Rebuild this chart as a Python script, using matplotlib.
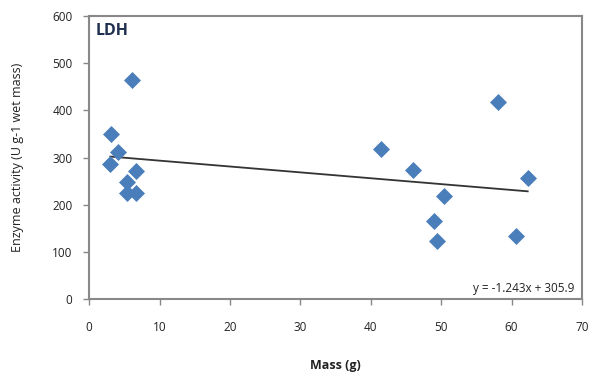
import matplotlib
matplotlib.use("Agg")
import matplotlib.pyplot as plt
import numpy as np

mass = [6.1, 3.1, 4.1, 3.0, 6.6, 5.3, 5.3, 6.7, 41.4, 46.0, 50.4, 49.0, 49.4, 58.1, 62.3, 60.6]
activity = [464, 351, 311, 286, 271, 248, 225, 225, 319, 273, 219, 165, 124, 418, 256, 134]
slope = -1.243
intercept = 305.9
x_ticks = [0, 10, 20, 30, 40, 50, 60, 70]
y_ticks = [0, 100, 200, 300, 400, 500, 600]

plt.rcParams['font.family'] = ['Open Sans', 'DejaVu Sans']

fig = plt.figure(figsize=(5.95, 3.91), dpi=100)
ax = fig.add_axes([0.150, 0.235, 0.828, 0.724])

ax.scatter(mass, activity, marker='D', s=75, color='#4A7EBB', zorder=3, linewidths=0)
xs = np.array([min(mass), max(mass)])
ax.plot(xs, slope * xs + intercept, color='#333333', lw=1.3, zorder=2)

ax.set_xlim(0, 70)
ax.set_ylim(0, 600)
ax.set_xticks(x_ticks)
ax.set_yticks(y_ticks)
ax.tick_params(axis='both', labelsize=8.5, color='#888888', length=4, width=1, labelcolor='#222222')
ax.tick_params(axis='x', pad=12)
ax.tick_params(axis='y', pad=8)
for s in ax.spines.values():
    s.set_color('#888888')
    s.set_linewidth(1.5)

ax.set_xlabel('Mass (g)', fontsize=9, fontweight='bold', labelpad=18, color='#222222')
ax.set_ylabel('Enzyme activity (U g-1 wet mass)', fontsize=9, labelpad=20, color='#222222')
ax.text(0.013, 0.975, 'LDH', transform=ax.transAxes, fontsize=11.5, fontweight='bold',
        ha='left', va='top', color='#1F2F4F')
ax.text(0.985, 0.015, 'y = -1.243x + 305.9', transform=ax.transAxes, fontsize=8.5,
        ha='right', va='bottom', color='#222222')

fig.savefig('out.png', dpi=100)
